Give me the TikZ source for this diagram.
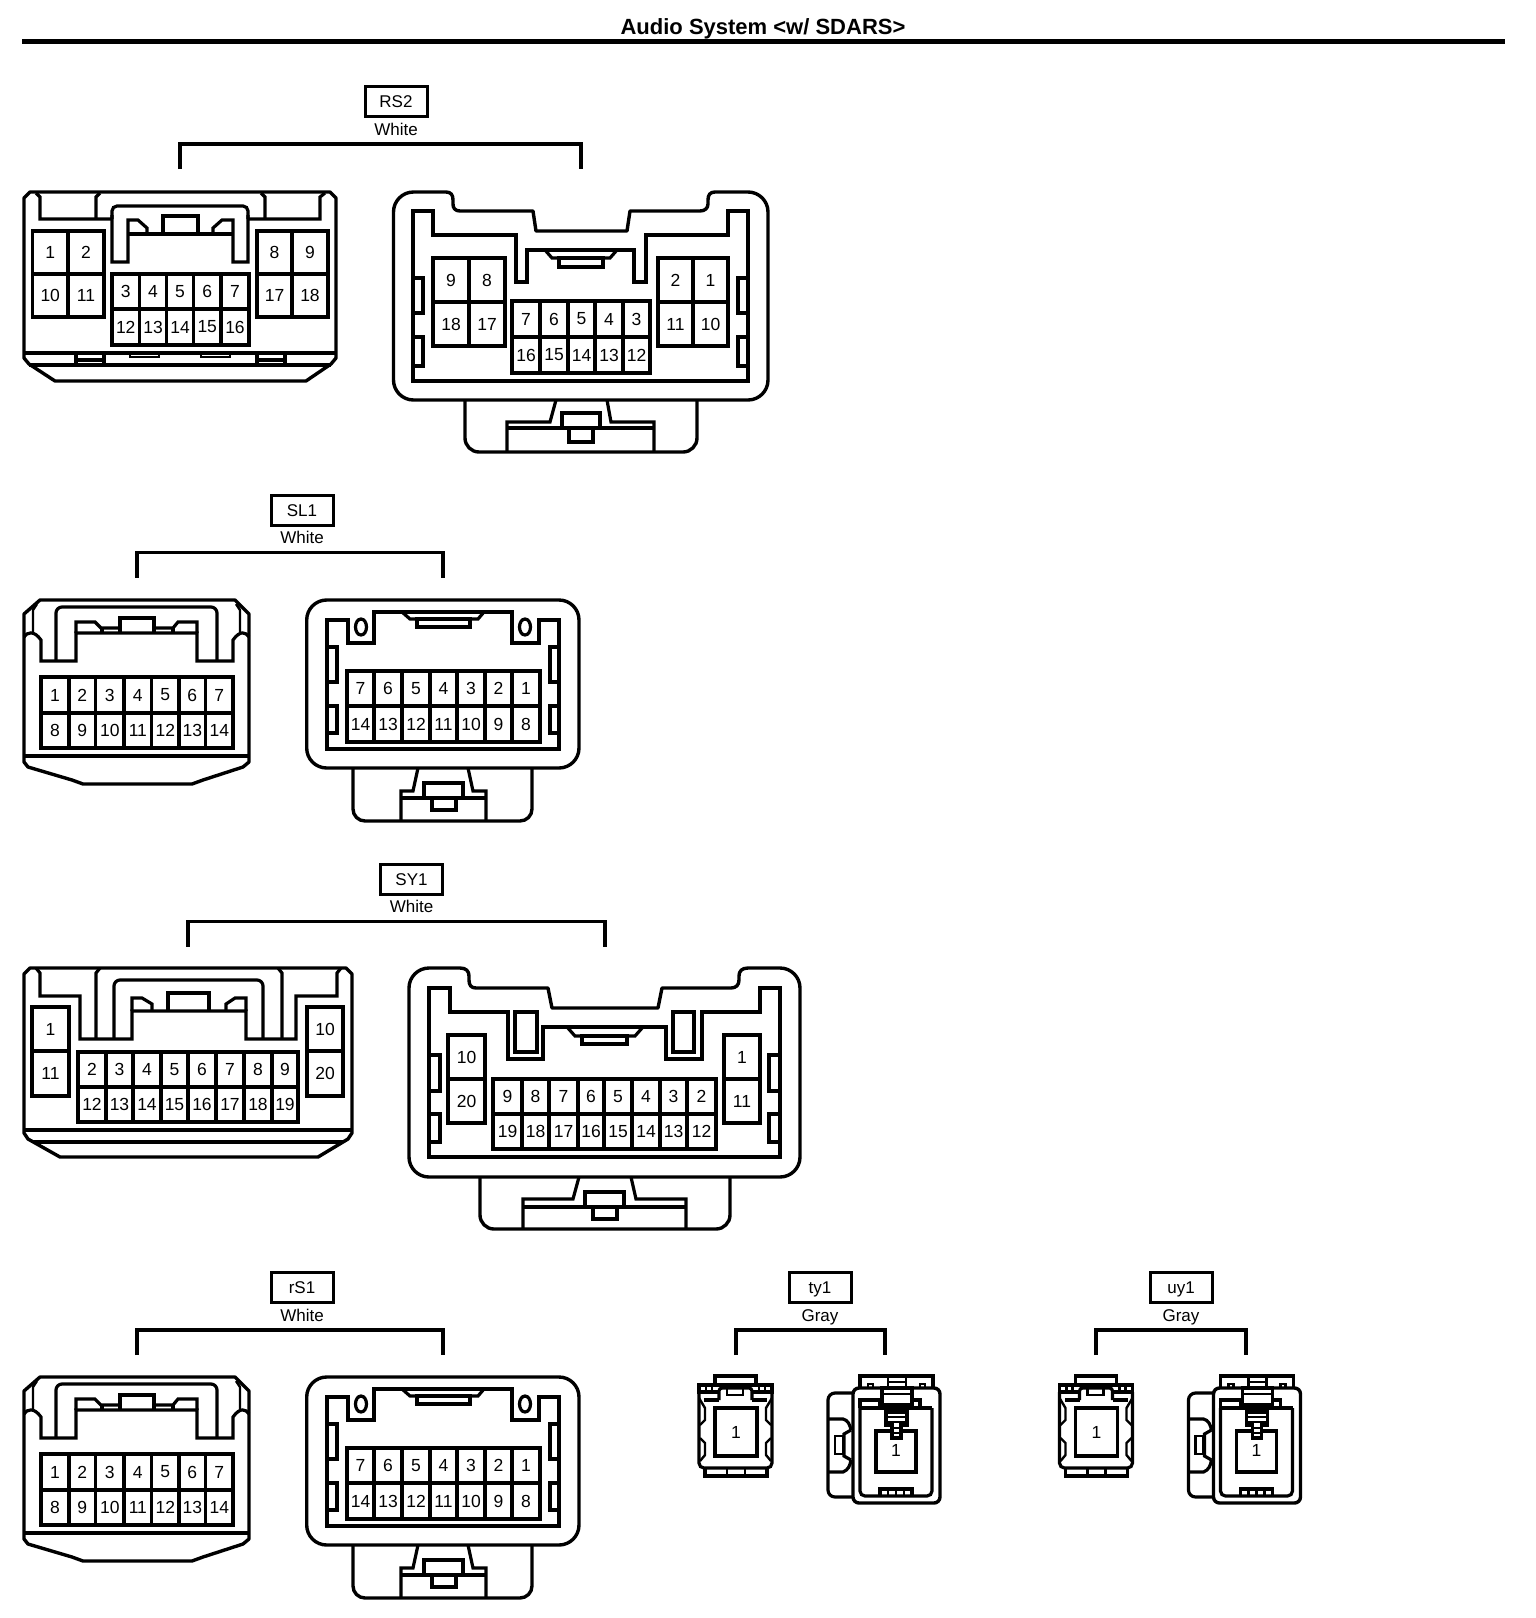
\documentclass[tikz,border=0pt]{standalone}
\usepackage{fontspec}
\setmainfont{Liberation Sans}
\newcounter{pinno}
\tikzset{
  outerline/.style={line width=3.4pt,line join=round},
  innerline/.style={line width=3.2pt,line join=miter},
  thinline/.style={line width=2.4pt,line join=miter},
  pinline/.style={line width=3.3pt},
  pinlabel/.style={inner sep=0pt,font=\fontsize{17.5}{18}\selectfont},
  tagbox/.style={draw,line width=3pt,minimum width=62pt,minimum height=30pt,inner sep=0pt,text height=12.5pt,text depth=0pt,font=\fontsize{17}{18}\selectfont},
  taglabel/.style={inner sep=0pt,text height=12.5pt,text depth=0pt,font=\fontsize{17}{18}\selectfont},
  bracketline/.style={line width=3.4pt,line cap=butt,line join=miter}
}
\newcommand\pincell[5]{\stepcounter{pinno}\draw[pinline] (#1,#3) rectangle (#2,#4);
  \path ({(#1+#2)/2},{(#3+#4)/2}) node[pinlabel] (pin\thepinno) {#5};}
\newcommand\pinrow[4]{\foreach \xa/\xb/\labA/\labB in {#4}{\pincell{\xa}{\xb}{#1}{#2}{\labA}\pincell{\xa}{\xb}{#2}{#3}{\labB}}}
% tag, colour word and bracket
\newcommand\tagset[7]{% name, colour, centre x, y top of box, bracket xl, bracket xr, id
  \node[tagbox] (tag#7) at (#3,#4+15.5) {#1};
  \node[taglabel] (col#7) at (#3,#4+43) {#2};
  \draw[bracketline] (#5,#4+83) -- (#5,#4+58) -- (#6,#4+58) -- (#6,#4+83);
}
% white 14-pin pair, used twice
\newcommand\slpair{%
  \draw[outerline] (40,600) -- (235,600) -- (249,614) -- (249,762) -- (243,767) -- (203,780) -- (192,784) -- (83,784) -- (72,780) -- (28,767) -- (24,762) -- (24,614) -- cycle;
  \draw[innerline] (24,756) -- (249,756);
  \draw[innerline] (24,637) .. controls (27,632) and (34,630) .. (41,640) -- (41,661) -- (76,661) -- (76,633) -- (197,633) -- (197,661) -- (233,661) -- (233,640) .. controls (240,630) and (246,632) .. (249,637);
  \draw[thinline] (37,604) -- (33,610) -- (33,633);
  \draw[thinline] (236,604) -- (240,610) -- (240,633);
  \draw[innerline,rounded corners=6pt] (56,661) -- (56,607) -- (217,607) -- (217,661);
  \draw[innerline] (76,633) -- (76,622) -- (95,622) -- (101,628) -- (120,628);
  \draw[innerline] (154,628) -- (173,628) -- (178,622) -- (197,622) -- (197,633);
  \draw[innerline] (102,628) -- (102,633) (173,628) -- (173,633);
  \draw[innerline] (120,633) -- (120,618) -- (154,618) -- (154,633);
  \pinrow{677}{713}{748}{41/69/1/8,69/95.7/2/9,95.7/124/3/10,124/151.7/4/11,151.7/179/5/12,179/205.7/6/13,205.7/233/7/14}
  \draw[outerline,rounded corners=20pt] (306.7,680) -- (306.7,600) -- (579,600) -- (579,768) -- (306.7,768) -- (306.7,680);
  \draw[innerline] (327,620) -- (348,620) -- (348,643) -- (374,643) -- (374,612) -- (512,612) -- (512,643) -- (539,643) -- (539,620) -- (559,620) -- (559,749) -- (327,749) -- cycle;
  \draw[innerline] (361,627) ellipse [x radius=5.5pt,y radius=8pt];
  \draw[innerline] (525,627) ellipse [x radius=5.5pt,y radius=8pt];
  \draw[innerline] (402,612) -- (410,619) -- (478,619) -- (484,612);
  \draw[innerline] (417,619) rectangle (470,627);
  \draw[innerline] (327,647) -- (337,647) -- (337,682) -- (327,682);
  \draw[innerline] (327,706) -- (337,706) -- (337,733) -- (327,733);
  \draw[innerline] (559,647) -- (550,647) -- (550,682) -- (559,682);
  \draw[innerline] (559,706) -- (550,706) -- (550,733) -- (559,733);
  \pinrow{671}{706}{742}{347/374/7/14,374/402/6/13,402/430/5/12,430/457/4/11,457/485/3/10,485/512/2/9,512/540/1/8}
  \draw[outerline,rounded corners=12pt] (353,768) -- (353,821) -- (532,821) -- (532,768);
  \draw[innerline] (401,821) -- (401,791) -- (413,791) -- (418,768);
  \draw[innerline] (486,821) -- (486,791) -- (473,791) -- (468,768);
  \draw[innerline] (401,798) -- (486,798);
  \draw[innerline] (424,798) -- (424,783) -- (463,783) -- (463,798);
  \draw[innerline] (432,798) rectangle (456,810);
}
% small 1-pin pair, used twice
\newcommand\smallpair[1]{%
  \draw[innerline] (715,1384) -- (715,1376) -- (756,1376) -- (756,1384);
  \draw[innerline] (699,1385) rectangle (772,1392);
  \draw[thinline] (706,1385) -- (706,1392) (712,1385) -- (712,1392) (759,1385) -- (759,1392) (765,1385) -- (765,1392);
  \draw[innerline,rounded corners=5pt] (699,1392) -- (699,1468) -- (772,1468) -- (772,1392);
  \draw[innerline] (705,1468) -- (705,1476) -- (767,1476) -- (767,1468);
  \draw[thinline] (727,1468) -- (727,1476) (745,1468) -- (745,1476);
  \draw[innerline,rounded corners=3pt,fill=white] (719,1400) -- (719,1388) -- (752,1388) -- (752,1400);
  \draw[thinline] (727,1388) rectangle (743,1395);
  \draw[thinline] (699,1398) -- (705,1408) -- (705,1420) -- (700,1425);
  \draw[thinline] (772,1398) -- (766,1408) -- (766,1420) -- (771,1425);
  \draw[thinline] (700,1438) -- (705,1443) -- (705,1455) -- (700,1461);
  \draw[thinline] (771,1438) -- (766,1443) -- (766,1455) -- (771,1461);
  \draw[innerline] (719,1400) -- (704,1400) (752,1400) -- (767,1400);
  \pincell{715}{757}{1408}{1456}{1}
  % right part
  \draw[innerline,rounded corners=7pt,fill=white] (853,1393) -- (828,1393) -- (828,1497) -- (853,1497);
  \draw[innerline] (828,1419) -- (843,1419) .. controls (848,1420) and (850,1425) .. (851,1430);
  \draw[innerline] (828,1472) -- (843,1472) .. controls (848,1470) and (850,1466) .. (851,1460);
  \draw[innerline] (851,1430) -- (844,1434) -- (844,1456) -- (851,1460);
  \draw[thinline] (835,1436) rectangle (843,1454);
  \draw[innerline] (860,1388) -- (860,1376) -- (933,1376) -- (933,1388);
  \draw[thinline] (868,1388) -- (868,1384) -- (873,1384) -- (873,1388) (920,1388) -- (920,1384) -- (925,1384) -- (925,1388);
  \draw[thinline] (888,1376) -- (888,1388) (906,1376) -- (906,1388) (888,1382) -- (906,1382);
  \draw[outerline,rounded corners=6pt,fill=white] (853,1388) rectangle (940,1503);
  \draw[innerline,rounded corners=5pt] (860,1408) -- (860,1496) -- (932,1496) -- (932,1408);
  \draw[innerline] (860,1408) -- (932,1408);
  \draw[innerline] (860,1408) -- (860,1400) -- (880,1400) -- (880,1408);
  \draw[innerline] (912,1408) -- (920,1408) -- (920,1400) -- (912,1400);
  \draw[innerline,fill=white] (882,1388) rectangle (912,1405);
  \draw[thinline] (882,1394) -- (912,1394);
  \pincell{876}{916}{1431}{1472}{}
  \path (896,1450) node[pinlabel] (onepin#1) {1};
  \draw[innerline,fill=white] (886,1412) -- (907,1412) -- (907,1425) -- (901,1425) -- (901,1438) -- (892,1438) -- (892,1425) -- (886,1425) -- cycle;
  \draw[thinline] (887,1417) -- (906,1417) (887,1422) -- (906,1422) (893,1428) -- (900,1428) (893,1433) -- (900,1433);
  \draw[innerline] (880,1496) -- (880,1489) -- (912,1489) -- (912,1496);
  \draw[thinline] (888,1489) -- (888,1496) (896,1489) -- (896,1496) (904,1489) -- (904,1496);
}
\begin{document}
\begin{tikzpicture}[x=1pt,y=-1pt]
\useasboundingbox (0,0) rectangle (1536,1618);
\node[inner sep=0pt,font=\fontsize{22}{24}\selectfont\bfseries] (title) at (763,29) {Audio System <w/ SDARS>};
\draw[line width=4.2pt] (22,41.5) -- (1505,41.5);

% ---------- RS2
\tagset{RS2}{White}{396}{86}{180}{581}{a}
\draw[outerline] (30,192) -- (330,192) -- (336,198) -- (336,358) -- (331,364) -- (306,381) -- (55,381) -- (29,364) -- (24,358) -- (24,198) -- cycle;
\draw[innerline] (24,353) -- (336,353);
\draw[innerline] (29,365) -- (331,365);
\draw[innerline] (36,193) -- (40,197) -- (40,219) -- (112,219);
\draw[innerline] (96,219) -- (96,197) -- (100,193);
\draw[innerline] (261,193) -- (265,197) -- (265,219);
\draw[innerline] (248,219) -- (320,219) -- (320,197) -- (325,193);
\draw[innerline,rounded corners=5pt] (112,219) -- (112,206) -- (248,206) -- (248,219);
\draw[innerline] (112,215) -- (112,262) -- (128,262) -- (128,220) -- (138,220) -- (147,228) -- (147,234) -- (213,234) -- (213,228) -- (222,220) -- (233,220) -- (233,262) -- (248,262) -- (248,215);
\draw[innerline] (128,234) -- (233,234);
\draw[innerline] (163,234) -- (163,216) -- (198,216) -- (198,234);
\draw[innerline] (76,353) rectangle (104,365) (76,360) -- (104,360);
\draw[innerline] (257,353) rectangle (285,365) (257,360) -- (285,360);
\draw[thinline] (130,353) -- (130,357) -- (159,357) -- (159,353);
\draw[thinline] (201,353) -- (201,357) -- (230,357) -- (230,353);
\pinrow{231}{274}{317}{32.5/68/1/10,68/104/2/11,257/292/8/17,292/328/9/18}
\pinrow{274}{309}{345}{112/139.5/3/12,139.5/166.6/4/13,166.6/193.5/5/14,193.5/221/6/15,221/249/7/16}
% RS2 right
\draw[outerline] (393.5,212) arc[start angle=180,end angle=90,radius=20pt] -- (446,192) .. controls (451,192) and (453,195) .. (453,200) -- (453,204) .. controls (453,208) and (455,211) .. (460,211) -- (533,211) -- (536,231) -- (627,231) -- (630,211) -- (700,211) .. controls (705,211) and (708,208) .. (708,204) -- (708,200) .. controls (708,195) and (710,192) .. (715,192) -- (748,192) arc[start angle=90,end angle=0,radius=20pt] -- (768,380) arc[start angle=0,end angle=-90,radius=20pt] -- (413.5,400) arc[start angle=270,end angle=180,radius=20pt] -- cycle;
\draw[innerline] (413,211) -- (433,211) -- (433,235) -- (516,235) -- (516,282) -- (527,282) -- (527,250) -- (634,250) -- (634,282) -- (646,282) -- (646,235) -- (728,235) -- (728,211) -- (748,211) -- (748,381) -- (413,381) -- cycle;
\draw[innerline] (545,250) -- (552,258) -- (610,258) -- (617,250);
\draw[innerline] (559,258) rectangle (603,267);
\draw[innerline] (413,278) -- (423,278) -- (423,313) -- (413,313) (413,337) -- (423,337) -- (423,366) -- (413,366);
\draw[innerline] (748,278) -- (738,278) -- (738,313) -- (748,313) (748,337) -- (738,337) -- (738,366) -- (748,366);
\pinrow{258}{302}{346}{433/469/9/18,469/505/8/17,658/693/2/11,693/728/1/10}
\pinrow{301}{337}{373}{512/540/7/16,540/568/6/15,568/595/5/14,595/623/4/13,623/650/3/12}
\draw[outerline,rounded corners=14pt] (465,400) -- (465,452) -- (697,452) -- (697,400);
\draw[innerline] (507,452) -- (507,422) -- (550,422) -- (556,400);
\draw[innerline] (654,452) -- (654,422) -- (611,422) -- (607,400);
\draw[innerline] (507,428) -- (654,428);
\draw[innerline] (562,428) -- (562,413) -- (600,413) -- (600,428);
\draw[innerline] (569,428) rectangle (593,442);

% ---------- SL1
\tagset{SL1}{White}{302}{494.5}{137}{443}{b}
\slpair

% ---------- SY1
\tagset{SY1}{White}{411.5}{863.5}{188}{605}{c}
\draw[outerline] (30,968) -- (346,968) -- (352,974) -- (352,1133) -- (348,1139) -- (318,1157) -- (60,1157) -- (28,1139) -- (24,1133) -- (24,974) -- cycle;
\draw[innerline] (24,1130) -- (352,1130);
\draw[innerline] (33,1142) -- (343,1142);
\draw[innerline] (36,968) -- (40,973) -- (40,996) -- (80,996) -- (80,1039) -- (132,1039) -- (132,1011) -- (246,1011) -- (246,1039) -- (296,1039) -- (296,996) -- (337,996) -- (337,973) -- (341,968);
\draw[innerline] (96,1039) -- (96,973) -- (100,968);
\draw[innerline] (282,1039) -- (282,973) -- (278,968);
\draw[innerline,rounded corners=6pt] (114,1039) -- (114,980) -- (263,980) -- (263,1039);
\draw[innerline] (132,1011) -- (132,998) -- (142,998) -- (152,1004) -- (152,1011);
\draw[innerline] (246,1011) -- (246,998) -- (235,998) -- (226,1004) -- (226,1011);
\draw[innerline] (168,1011) -- (168,993) -- (209,993) -- (209,1011);
\pinrow{1007}{1051}{1096}{32/69/1/11,307/343/10/20}
\pinrow{1052}{1087}{1122}{78/106/2/12,106/133/3/13,133/161/4/14,161/188/5/15,188/216/6/16,216/244/7/17,244/272/8/18,272/298/9/19}
% SY1 right
\draw[outerline] (409,988) arc[start angle=180,end angle=90,radius=20pt] -- (460,968) .. controls (466,968) and (469,971) .. (469,976) -- (469,980) .. controls (469,985) and (471,988) .. (476,988) -- (548,988) -- (552,1008) -- (658,1008) -- (662,988) -- (731,988) .. controls (736,988) and (739,985) .. (739,980) -- (739,976) .. controls (739,971) and (742,968) .. (748,968) -- (780,968) arc[start angle=90,end angle=0,radius=20pt] -- (800,1157) arc[start angle=0,end angle=-90,radius=20pt] -- (429,1177) arc[start angle=270,end angle=180,radius=20pt] -- cycle;
\draw[innerline] (429,988) -- (450,988) -- (450,1012) -- (508,1012) -- (508,1059) -- (543,1059) -- (543,1027) -- (666,1027) -- (666,1059) -- (702,1059) -- (702,1012) -- (760,1012) -- (760,988) -- (780,988) -- (780,1157) -- (429,1157) -- cycle;
\draw[innerline] (515,1012) rectangle (537,1052);
\draw[innerline] (673,1012) rectangle (694,1052);
\draw[innerline] (567,1027) -- (575,1036) -- (635,1036) -- (643,1027);
\draw[innerline] (582,1036) rectangle (627,1044);
\draw[innerline] (429,1055) -- (440,1055) -- (440,1091) -- (429,1091) (429,1114) -- (440,1114) -- (440,1142) -- (429,1142);
\draw[innerline] (780,1055) -- (769,1055) -- (769,1091) -- (780,1091) (780,1114) -- (769,1114) -- (769,1142) -- (780,1142);
\pinrow{1035}{1079}{1123}{448/485/10/20,724/760/1/11}
\pinrow{1079}{1114}{1149}{493/522/9/19,522/549/8/18,549/578/7/17,578/604/6/16,604/632/5/15,632/660/4/14,660/687/3/13,687/716/2/12}
\draw[outerline,rounded corners=14pt] (480,1177) -- (480,1229) -- (730,1229) -- (730,1177);
\draw[innerline] (523,1229) -- (523,1199) -- (573,1199) -- (579,1177);
\draw[innerline] (686,1229) -- (686,1199) -- (636,1199) -- (631,1177);
\draw[innerline] (523,1207) -- (686,1207);
\draw[innerline] (585,1207) -- (585,1192) -- (624,1192) -- (624,1207);
\draw[innerline] (593,1207) rectangle (617,1219);

% ---------- rS1
\tagset{rS1}{White}{302}{1272}{137}{443}{d}
\begin{scope}[shift={(0,777)}]
\slpair
\end{scope}

% ---------- ty1, uy1
\tagset{ty1}{Gray}{820}{1272}{736}{885}{e}
\tagset{uy1}{Gray}{1181}{1272}{1096}{1246}{f}
\smallpair{g}
\begin{scope}[shift={(360.5,0)}]
\smallpair{h}
\end{scope}
\end{tikzpicture}
\end{document}
